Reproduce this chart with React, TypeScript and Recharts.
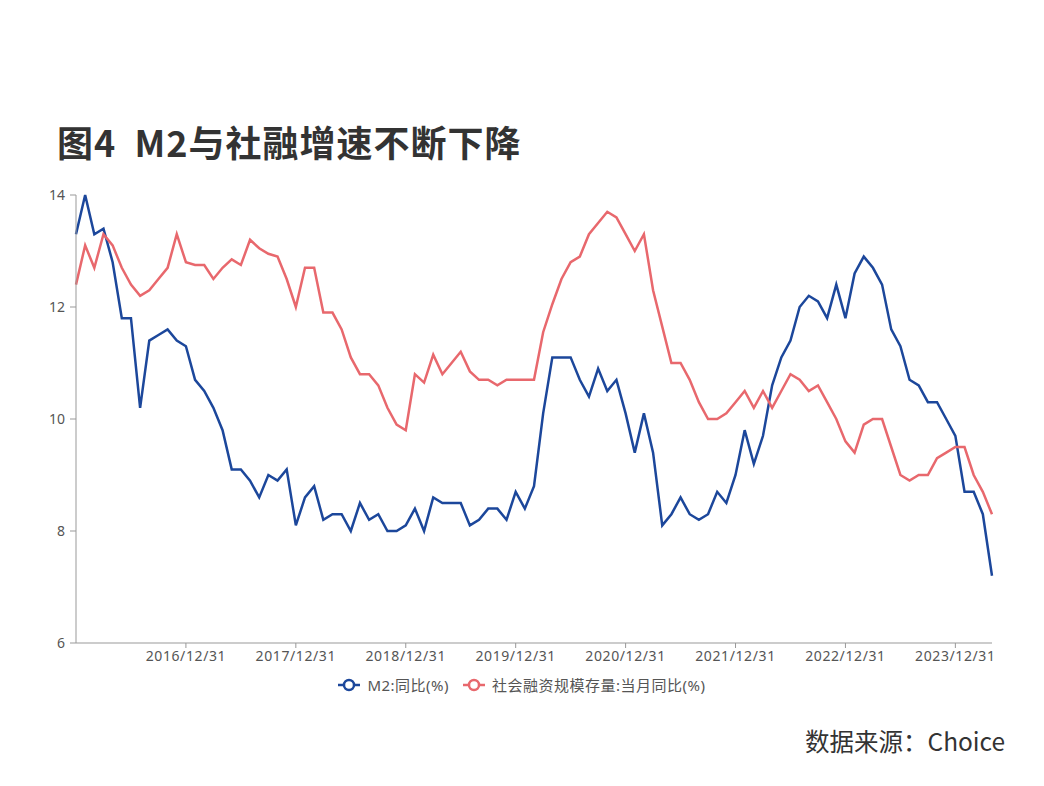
import React from 'react';
import { LineChart, Line, XAxis, YAxis, Legend } from 'recharts';

// 月度数据：2015/12 ~ 2024/04
const startYear = 2015;
const startMonth = 12;

const m2Yoy = [
    13.3, 14.0, 13.3, 13.4, 12.8, 11.8, 11.8, 10.2, 11.4, 11.5, 11.6, 11.4, 11.3,
    10.7, 10.5, 10.2, 9.8, 9.1, 9.1, 8.9, 8.6, 9.0, 8.9, 9.1, 8.1,
    8.6, 8.8, 8.2, 8.3, 8.3, 8.0, 8.5, 8.2, 8.3, 8.0, 8.0, 8.1,
    8.4, 8.0, 8.6, 8.5, 8.5, 8.5, 8.1, 8.2, 8.4, 8.4, 8.2, 8.7,
    8.4, 8.8, 10.1, 11.1, 11.1, 11.1, 10.7, 10.4, 10.9, 10.5, 10.7, 10.1,
    9.4, 10.1, 9.4, 8.1, 8.3, 8.6, 8.3, 8.2, 8.3, 8.7, 8.5, 9.0,
    9.8, 9.2, 9.7, 10.6, 11.1, 11.4, 12.0, 12.2, 12.1, 11.8, 12.4, 11.8,
    12.6, 12.9, 12.7, 12.4, 11.6, 11.3, 10.7, 10.6, 10.3, 10.3, 10.0, 9.7,
    8.7, 8.7, 8.3, 7.2
];

const tsfYoy = [
    12.4, 13.1, 12.7, 13.3, 13.1, 12.7, 12.4, 12.2, 12.3, 12.5, 12.7, 13.3, 12.8,
    12.75, 12.75, 12.5, 12.7, 12.85, 12.75, 13.2, 13.05, 12.95, 12.9, 12.5, 12.0,
    12.7, 12.7, 11.9, 11.9, 11.6, 11.1, 10.8, 10.8, 10.6, 10.2, 9.9, 9.8,
    10.8, 10.65, 11.15, 10.8, 11.0, 11.2, 10.85, 10.7, 10.7, 10.6, 10.7, 10.7,
    10.7, 10.7, 11.55, 12.05, 12.5, 12.8, 12.9, 13.3, 13.5, 13.7, 13.6, 13.3,
    13.0, 13.3, 12.3, 11.65, 11.0, 11.0, 10.7, 10.3, 10.0, 10.0, 10.1, 10.3,
    10.5, 10.2, 10.5, 10.2, 10.5, 10.8, 10.7, 10.5, 10.6, 10.3, 10.0, 9.6,
    9.4, 9.9, 10.0, 10.0, 9.5, 9.0, 8.9, 9.0, 9.0, 9.3, 9.4, 9.5,
    9.5, 9.0, 8.7, 8.3
];

const xTicks = [12, 24, 36, 48, 60, 72, 84, 96];
const yTicks = [6, 8, 10, 12, 14];

const seriesNames = ['M2:同比(%)', '社会融资规模存量:当月同比(%)'];
const COLORS = ['#1c479b', '#e8686d'];

const pad = (n: number) => (n < 10 ? '0' + n : '' + n);

// 每月最后一天作为日期标签
const dates = m2Yoy.map((_, i) => {
    const total = startMonth - 1 + i;
    const y = startYear + Math.floor(total / 12);
    const m = (total % 12) + 1;
    const lastDay = new Date(y, m, 0).getDate();
    return `${y}/${pad(m)}/${pad(lastDay)}`;
});

const data = dates.map((d, i) => ({
    i,
    date: d,
    m2: m2Yoy[i],
    tsf: tsfYoy[i],
}));

const FONT = '"Noto Sans CJK SC", "Noto Sans", sans-serif';
const TICK_FONT = '"Noto Sans", "Noto Sans CJK SC", sans-serif';

const LegendIcon = ({ color }: { color: string }) => (
    <svg width={22} height={14} style={{ marginRight: 7 }}>
        <line x1={0} y1={7} x2={22} y2={7} stroke={color} strokeWidth={2.5} />
        <circle cx={11} cy={7} r={5} fill="#fff" stroke={color} strokeWidth={2.5} />
    </svg>
);

const CustomLegend = () => (
    <div style={{ display: 'flex', justifyContent: 'center', alignItems: 'center', fontFamily: TICK_FONT, fontSize: 15, letterSpacing: 0.5, color: '#555' }}>
        {seriesNames.map((name, idx) => (
            <div key={name} style={{ display: 'flex', alignItems: 'center', marginRight: idx === 0 ? 14 : 0 }}>
                <LegendIcon color={COLORS[idx]} />
                <span>{name}</span>
            </div>
        ))}
    </div>
);

const App: React.FC = () => {
    return (
        <div style={{ position: 'absolute', left: 0, top: 0, width: 1044, height: 786, background: '#fff', fontFamily: FONT }}>
            <div style={{ position: 'absolute', left: 57, top: 115, fontSize: 36, fontWeight: 700, color: '#333', whiteSpace: 'pre', letterSpacing: 1 }}>
                {'图4  M2与社融增速不断下降'}
            </div>
            <LineChart
                width={1044}
                height={700}
                data={data}
                margin={{ top: 195, right: 52, left: 16, bottom: 27 }}
            >
                <XAxis
                    dataKey="i"
                    type="number"
                    domain={[0, 100]}
                    ticks={xTicks}
                    tickFormatter={(v: number) => dates[v]}
                    height={30}
                    tickSize={5}
                    tickMargin={3}
                    stroke="#999"
                    tick={{ fill: '#555', fontSize: 14, fontFamily: TICK_FONT, letterSpacing: 0.6 }}
                />
                <YAxis
                    type="number"
                    domain={[6, 14]}
                    ticks={yTicks}
                    width={60}
                    tickSize={6}
                    tickMargin={5}
                    stroke="#999"
                    tick={{ fill: '#555', fontSize: 14, fontFamily: TICK_FONT }}
                />
                <Legend
                    layout="horizontal"
                    verticalAlign="middle"
                    wrapperStyle={{ top: 674, left: 0, width: 1044 }}
                    content={<CustomLegend />}
                />
                <Line
                    type="linear"
                    dataKey="m2"
                    name={seriesNames[0]}
                    stroke={COLORS[0]}
                    strokeWidth={2.5}
                    dot={false}
                    isAnimationActive={false}
                />
                <Line
                    type="linear"
                    dataKey="tsf"
                    name={seriesNames[1]}
                    stroke={COLORS[1]}
                    strokeWidth={2.5}
                    dot={false}
                    isAnimationActive={false}
                />
            </LineChart>
            <div style={{ position: 'absolute', left: 805, top: 723, fontSize: 24.5, color: '#333' }}>
                数据来源：Choice
            </div>
        </div>
    );
};

export default App;
